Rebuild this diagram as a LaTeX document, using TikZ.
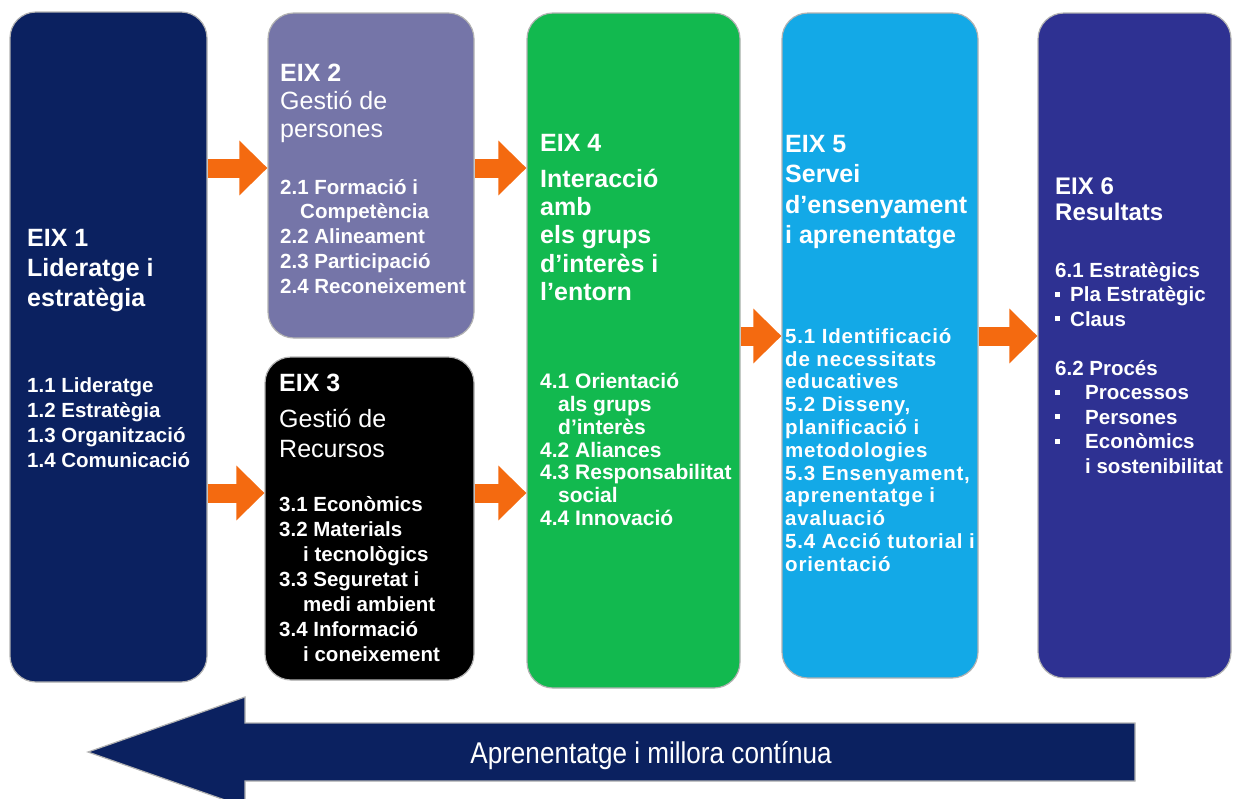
\documentclass[tikz,border=0pt]{standalone}
\usepackage{fontspec}
\setmainfont{Liberation Sans}
\newfontfamily\narrowfont[FakeStretch=0.87]{Liberation Sans}
\newfontfamily\spacedfont[LetterSpace=4]{Liberation Sans}
\usetikzlibrary{arrows.meta}

\definecolor{navyc}{HTML}{0B2160}
\definecolor{slatec}{HTML}{7575A8}
\definecolor{greenc}{HTML}{12B94F}
\definecolor{skyc}{HTML}{13A9E7}
\definecolor{indigoc}{HTML}{2E3192}
\definecolor{orangec}{HTML}{F46A10}
\newcommand{\fs}[2]{\fontsize{#1}{#2}\selectfont}
\newcommand{\sqb}{\rule[5pt]{5pt}{5pt}}

\begin{document}
\begin{tikzpicture}[x=1pt,y=-1pt,
      box/.style={draw=gray!60,line width=1.2pt,rounded corners=26pt,inner sep=0pt},
      txt/.style={anchor=north west,align=left,inner sep=0pt,text=white},
      arr/.style={draw=orangec,line width=19pt,-{Triangle[length=28pt,width=53pt,fill=orangec]}}]
    \useasboundingbox (0,0) rectangle (1233,798);
    % axes
    \node[box,fill=navyc,minimum width=197pt,minimum height=670pt] (eix1) at (108.5,347) {};
    \node[box,fill=slatec,minimum width=206pt,minimum height=325pt] (eix2) at (371,175.5) {};
    \node[box,fill=black,minimum width=209pt,minimum height=323pt] (eix3) at (369.5,518.5) {};
    \node[box,fill=greenc,minimum width=213pt,minimum height=675pt] (eix4) at (633.5,350.5) {};
    \node[box,fill=skyc,minimum width=196pt,minimum height=665pt] (eix5) at (880,345.5) {};
    \node[box,fill=indigoc,minimum width=193pt,minimum height=665pt] (eix6) at (1134.5,345.5) {};
    % texts
    \node[txt,font=\fs{25}{30}\bfseries] (eix1h) at (27,229) {EIX 1\\Lideratge i\\estratègia};
    \node[txt,font=\fs{20.5}{25}\bfseries] (eix1l) at (27,377)
      {1.1 Lideratge\\1.2 Estratègia\\1.3 Organització\\1.4 Comunicació};
    \node[txt,font=\fs{25}{28}] (eix2h) at (280,64) {\textbf{EIX 2}\\Gestió de\\persones};
    \node[txt,font=\fs{20.5}{24.75}\bfseries] (eix2l) at (280,179)
      {2.1 Formació i\\\hspace*{20pt}Competència\\2.2 Alineament\\2.3 Participació\\2.4 Reconeixement};
    \node[txt,font=\fs{25}{30}] (eix3h) at (279,374) {\textbf{EIX 3}\\[6pt]Gestió de\\Recursos};
    \node[txt,font=\fs{20.5}{25}\bfseries] (eix3l) at (279,496)
      {3.1 Econòmics\\3.2 Materials\\\hspace*{24pt}i tecnològics\\3.3 Seguretat i\\\hspace*{24pt}medi ambient\\3.4 Informació\\\hspace*{24pt}i coneixement};
    \node[txt,font=\fs{25}{28.25}\bfseries] (eix4h) at (540,134)
      {EIX 4\\[7.75pt]Interacció\\amb\\els grups\\d’interès i\\l’entorn};
    \node[txt,font=\fs{21}{22.8}\bfseries] (eix4l) at (540,373)
      {4.1 Orientació\\\hspace*{18pt}als grups\\\hspace*{18pt}d’interès\\4.2 Aliances\\4.3 Responsabilitat\\\hspace*{18pt}social\\4.4 Innovació};
    \node[txt,font=\fs{25}{30.5}\bfseries] (eix5h) at (785,135)
      {EIX 5\\Servei\\d’ensenyament\\i aprenentatge};
    \node[txt,font=\spacedfont\fs{20.5}{22.8}\bfseries] (eix5l) at (785,328)
      {5.1 Identificació\\de necessitats\\educatives\\5.2 Disseny,\\planificació i\\metodologies\\5.3 Ensenyament,\\aprenentatge i\\avaluació\\5.4 Acció tutorial i\\orientació};
    \node[txt,font=\fs{24}{26}\bfseries] (eix6h) at (1055,178) {EIX 6\\Resultats};
    \node[txt,font=\fs{20.5}{24.5}\bfseries] (eix6l) at (1055,262)
      {6.1 Estratègics\\\sqb\hspace*{10pt}Pla Estratègic\\\sqb\hspace*{10pt}Claus\\[24.5pt]6.2 Procés\\\sqb\hspace*{25pt}Processos\\\sqb\hspace*{25pt}Persones\\\sqb\hspace*{25pt}Econòmics\\\hspace*{30pt}i sostenibilitat};
    % orange connectors
    \coordinate (rowa) at (0,168);
    \coordinate (rowb) at (0,493);
    \coordinate (rowc) at (0,336);
    \foreach \src/\dst/\row in {eix1/eix2/rowa,eix1/eix3/rowb,eix2/eix4/rowa,eix3/eix4/rowb,eix4/eix5/rowc,eix5/eix6/rowc} {
      \draw[arr] (\src.east |- \row) -- (\dst.west |- \row);
    }
    % improvement loop
    \draw[fill=navyc,draw=gray!60,line width=1.2pt] (1135,723) -- (245,723) -- (245,697) -- (88,752)
      -- (245,807) -- (245,781) -- (1135,781) -- cycle;
    \node[font=\narrowfont\fs{30}{36},text=white,anchor=base,inner sep=0pt] (loop) at (651,763)
      {Aprenentatge i millora contínua};
\end{tikzpicture}
\end{document}
